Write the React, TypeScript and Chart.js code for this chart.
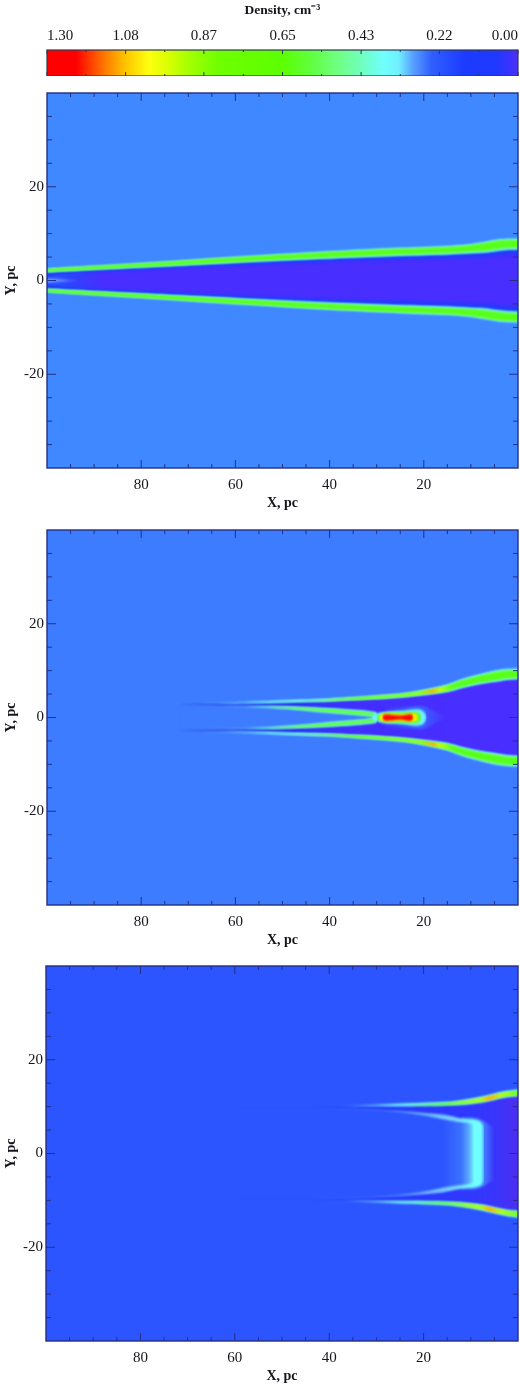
import React, { useEffect, useRef } from 'react';
import { Chart, registerables } from 'chart.js';

Chart.register(...registerables);

const SERIF = '"Liberation Serif", serif';
const INK = '#14161c';
const FRAME = '#243080';

// axis ticks
const xMajor = [20, 40, 60, 80];
const xMinor = [95, 90, 85, 75, 70, 65, 55, 50, 45, 35, 30, 25, 15, 10, 5];
const yMajor = [-20, 0, 20];
const yMinor = [35, 30, 25, 15, 10, 5, -5, -10, -15, -25, -30, -35];

// colour bar
const barMajor = [0, 0.217, 0.433, 0.65, 0.867, 1.083, 1.3];
const barMinor = [1.192, 0.975, 0.758, 0.542, 0.325, 0.108];
const barLevels = [1.3, 1.22, 1.14, 1.08, 1.02, 0.97, 0.91, 0.83, 0.65, 0.57, 0.5, 0.43, 0.37, 0.33, 0.29, 0.24, 0.15, 0.06, 0.02, 0];
const barColors = ['#ff0000', '#ff0000', '#ff7a00', '#ffc800', '#ffff10', '#ddff00', '#a6ff00', '#70ff00', '#5cff00', '#60ff40', '#70ff80', '#70ffc0', '#70ffff', '#70f0ff', '#5aa0ff', '#3060ff', '#1c3cff', '#2038ff', '#3c32ff', '#5030f0'];

// top panel, upper half of the shell (the lower half is its mirror)
const p1X = [100, 95, 90, 80, 68, 50, 36, 25, 15, 11, 7, 4, 2, -2];
const p1Outer = [2.5, 2.8, 3.1, 3.7, 4.5, 5.6, 6.4, 6.9, 7.3, 7.6, 8.2, 8.7, 8.8, 8.9];
const p1Inner = [1.8, 2.05, 2.3, 2.8, 3.4, 4.3, 4.9, 5.3, 5.6, 5.8, 6.0, 6.4, 6.6, 6.7];
const p1Core = [0, 0.9, 1.6, 1.95, 2.6, 3.4, 3.9, 4.2, 4.5, 4.6, 4.8, 5.1, 5.3, 5.4];
const p1SpotX = [100, 97, 93];
const p1SpotY = [0.35, 0.3, 0];

// middle panel
const p2X = [75, 70, 65, 60, 52, 46, 40, 35, 29.4, 24, 19.4, 15, 11.7, 8, 4.6, 2, -2];
const p2Outer = [3.1, 3.15, 3.2, 3.3, 3.55, 3.75, 4.0, 4.3, 4.7, 5.2, 6.0, 7.0, 8.2, 9.2, 10.0, 10.3, 10.4];
const p2Inner = [3.05, 3.05, 3.0, 2.95, 3.15, 3.35, 3.5, 3.75, 4.0, 4.4, 4.9, 5.5, 6.4, 7.2, 7.7, 8.1, 8.3];
const p2FilX = [72, 67, 62, 57, 52, 46, 40, 35, 32, 30];
const p2FilOuter = [2.55, 2.55, 2.5, 2.45, 2.4, 2.2, 1.9, 1.55, 1.3, 1.0];
const p2FilInner = [2.45, 2.4, 2.3, 2.2, 2.0, 1.6, 1.0, 0.6, 0.3, 0];
const p2GlowX = [29, 24, 20, 18.5, 17, 15];
const p2GlowY = [1.9, 2.3, 2.4, 1.7, 1.0, 0];
const p2HaloX = [31, 29, 27, 24, 22, 20.5, 19.8, 19.4];
const p2HaloY = [0.5, 1.1, 1.35, 1.5, 1.75, 1.6, 1.0, 0];
const p2GreenX = [30, 28, 25, 22.5, 21, 20.5];
const p2GreenY = [0.45, 1.0, 1.1, 1.25, 1.0, 0];
const p2YellowX = [29.5, 28.5, 25, 22.5, 21.5, 21.2];
const p2YellowY = [0.3, 0.8, 0.75, 0.85, 0.65, 0];
const p2RedX = [28.8, 28.2, 25, 23, 22.5, 22.2];
const p2RedY = [0.2, 0.68, 0.42, 0.72, 0.55, 0];

// bottom panel
const p3X = [40, 36, 30, 25, 20, 15, 12, 8, 5, 2, -2];
const p3Outer = [10.15, 10.2, 10.4, 10.6, 10.75, 10.95, 11.3, 12.0, 12.7, 13.3, 13.7];
const p3Inner = [10.05, 10.05, 10.1, 10.1, 10.15, 10.3, 10.45, 10.9, 11.5, 12.1, 12.4];
const p3CavityX = [50, 40, 30, 20, 15, 12, 8, 5, 2, -2];
const p3CavityY = [10.0, 10.05, 10.1, 10.15, 10.3, 10.45, 10.9, 11.5, 12.1, 12.4];
const p3ArcX = [60, 46, 38, 30, 25, 20, 16, 13, 11, 9.5, 8, 7.2];
const p3ArcOuter = [9.6, 9.6, 9.55, 9.35, 9.1, 8.7, 8.3, 7.7, 7.35, 7.25, 6.8, 5.8];
const p3HollowX = [60, 46, 38, 30, 25, 20, 16, 13, 11, 9.7, 9.4];
const p3HollowY = [9.55, 9.55, 9.5, 9.15, 8.8, 8.1, 7.3, 6.8, 6.6, 6.3, 6.0];
const p3GlowX = [12, 9, 7, 5];
const p3GlowY = [7.7, 7.6, 6.8, 5.4];

type Stop = [number, string];
type Paint = string | Stop[];

const pts = (xs: number[], ys: number[]) => xs.map((x, i) => ({ x, y: ys[i] }));

const paintOf = (paint: Paint) => {
  if (typeof paint === 'string') return paint;
  return (c: any) => {
    const s = c.chart.scales.x;
    // options get resolved once before layout as well
    if (!s || !c.chart.chartArea || !Number.isFinite(s.left) || !Number.isFinite(s.right)) return 'rgba(0,0,0,0)';
    const g = c.chart.ctx.createLinearGradient(s.left, 0, s.right, 0);
    paint.forEach(([x, colour]) => {
      const o = (s.getPixelForValue(x) - s.left) / (s.right - s.left);
      g.addColorStop(Math.min(1, Math.max(0, o)), colour);
    });
    return g;
  };
};

const edge = { borderWidth: 0, pointRadius: 0, tension: 0.3 };

const band = (xs: number[], up: number[], lo: number[], paint: Paint) => [
  { ...edge, data: pts(xs, up), fill: '+1', backgroundColor: paintOf(paint) },
  { ...edge, data: pts(xs, lo), fill: false },
];

const neg = (ys: number[]) => ys.map(v => -v);

const closed = (xs: number[], ys: number[], paint: Paint) => band(xs, ys, neg(ys), paint);

// both rims, between fractions t0 and t1 of the way from outer to inner edge
const rim = (xs: number[], outer: number[], inner: number[], t0: number, t1: number, paint: Paint) => {
  const a = outer.map((v, i) => v + (inner[i] - v) * t0);
  const b = outer.map((v, i) => v + (inner[i] - v) * t1);
  return [...band(xs, a, b, paint), ...band(xs, neg(b), neg(a), paint)];
};

// datasets are listed back to front
const stacked = (groups: any[][]) => {
  const list = groups.flat();
  return list.map((d, i) => ({ ...d, order: list.length - i }));
};

const panel1 = stacked([
  closed(p1X, p1Inner, '#1e3cf4'),
  closed(p1X, p1Core.map((v, i) => (v + p1Inner[i]) / 2), [[97, '#2a50ff'], [90, '#3236ff']]),
  closed(p1X, p1Core, [[96, '#2c44ff'], [88, '#482eff']]),
  closed(p1SpotX, p1SpotY, [[100, '#78b0ff'], [93, '#3a50ff']]),
  rim(p1X, p1Outer, p1Inner, -0.04, 1.02, '#68e8ff'),
  rim(p1X, p1Outer, p1Inner, 0.06, 0.88, '#70ff70'),
  rim(p1X, p1Outer, p1Inner, 0.14, 0.78, '#58ff18'),
]);

const p2Bg = '#3d7cff';
const panel2 = stacked([
  closed(p2X, p2Inner, [[72, 'rgba(32,48,235,0)'], [62, 'rgba(32,48,235,1)'], [46, '#2a34f4'], [36, '#4030ff'], [15, '#482eff']]),
  closed(p2FilX, p2FilOuter, p2Bg),
  closed(p2GlowX, p2GlowY, [[29, '#4030ff'], [21, '#3a66ff'], [15, '#482eff']]),
  rim(p2X, p2Outer, p2Inner, -0.04, 1.02, [[75, 'rgba(90,170,255,0)'], [62, 'rgba(90,170,255,1)'], [52, '#70f0ff']]),
  rim(p2X, p2Outer, p2Inner, 0.08, 0.92, [[58, 'rgba(112,255,200,0)'], [46, 'rgba(112,255,200,1)'], [38, '#70ff70']]),
  rim(p2X, p2Outer, p2Inner, 0.18, 0.82, [[42, 'rgba(96,255,24,0)'], [34, 'rgba(96,255,24,1)'], [21, '#90ff10'], [18, '#ffb000'], [16.5, '#c8ff00'], [14, '#58ff18']]),
  rim(p2FilX, p2FilOuter, p2FilInner, -0.1, 1.05, [[72, 'rgba(90,170,255,0)'], [60, 'rgba(90,170,255,1)'], [50, '#70f0ff']]),
  rim(p2FilX, p2FilOuter, p2FilInner, 0.12, 0.88, [[58, 'rgba(96,255,60,0)'], [46, 'rgba(96,255,60,1)']]),
  closed(p2HaloX, p2HaloY, '#70f0ff'),
  closed(p2GreenX, p2GreenY, '#60ff20'),
  closed(p2YellowX, p2YellowY, '#ffe800'),
  closed(p2RedX, p2RedY, '#ff0800'),
]);

const p3Bg = '#2c55ff';
const panel3 = stacked([
  closed(p3CavityX, p3CavityY, [[44, 'rgba(38,58,255,0)'], [28, 'rgba(38,58,255,1)'], [10, '#3038ff'], [4, '#3c34fa'], [0, '#4c2ef0']]),
  closed(p3GlowX, p3GlowY, [[7.4, 'rgba(70,130,255,1)'], [5, 'rgba(70,130,255,0)']]),
  closed(p3ArcX, p3ArcOuter, [[42, p3Bg], [28, '#4078ff'], [20, '#6cb0ff'], [13, '#78d8ff'], [10, '#70ffff'], [7.8, '#70ffff'], [7.2, '#4cb0ff']]),
  closed(p3HollowX, p3HollowY, [[16, p3Bg], [12, '#3a72ff'], [10.5, '#5aa8ff'], [9.4, '#70e8ff']]),
  rim(p3X, p3Outer, p3Inner, -0.1, 1.05, [[38, 'rgba(90,170,255,0)'], [32, 'rgba(90,170,255,1)'], [26, '#70f0ff']]),
  rim(p3X, p3Outer, p3Inner, 0.08, 0.92, [[24, 'rgba(90,255,60,0)'], [16, 'rgba(90,255,60,1)'], [8, '#b0ff10'], [6, '#ffb000'], [3.5, '#b0ff10'], [0, '#70ff20']]),
]);

const hatch = (c: Chart, xs: number[], ys: number[], xLen: number, yLen: number) => {
  const { ctx, chartArea: a, scales } = c;
  ctx.beginPath();
  xs.forEach(v => {
    const p = scales.x.getPixelForValue(v);
    ctx.moveTo(p, a.top);
    ctx.lineTo(p, a.top + xLen);
    ctx.moveTo(p, a.bottom);
    ctx.lineTo(p, a.bottom - xLen);
  });
  ys.forEach(v => {
    const p = scales.y.getPixelForValue(v);
    ctx.moveTo(a.left, p);
    ctx.lineTo(a.left + yLen, p);
    ctx.moveTo(a.right, p);
    ctx.lineTo(a.right - yLen, p);
  });
  ctx.stroke();
};

const fieldPlugin = (bg: string) => ({
  id: 'field',
  beforeDatasetsDraw(c: Chart) {
    const { ctx, chartArea: a } = c;
    ctx.fillStyle = bg;
    ctx.fillRect(a.left, a.top, a.right - a.left, a.bottom - a.top);
    ctx.save();
    (ctx as any).filter = 'blur(0.85px)';
  },
  afterDatasetsDraw(c: Chart) {
    const { ctx, chartArea: a } = c;
    ctx.restore();
    ctx.save();
    ctx.strokeStyle = FRAME;
    ctx.lineWidth = 1;
    hatch(c, xMinor, yMinor, 4, 5);
    hatch(c, xMajor, yMajor, 8, 9);
    ctx.lineWidth = 1.4;
    ctx.strokeRect(a.left, a.top, a.right - a.left, a.bottom - a.top);
    ctx.restore();
  },
});

const barPlugin = {
  id: 'barFrame',
  afterDatasetsDraw(c: Chart) {
    const { ctx, chartArea: a } = c;
    ctx.save();
    ctx.strokeStyle = '#2c3a50';
    ctx.lineWidth = 1;
    hatch(c, barMinor, [], 2, 0);
    hatch(c, barMajor, [], 4, 0);
    ctx.lineWidth = 1.2;
    ctx.strokeRect(a.left, a.top, a.right - a.left, a.bottom - a.top);
    ctx.restore();
  },
};

const tickFont = { family: SERIF, size: 15 };
const titleFont = { family: SERIF, size: 14, weight: 'bold' as const };
const noGrid = { display: false, drawTicks: false };

// axis labels must not push the plot area in
const noOverflow = (s: any) => {
  s.paddingLeft = 0;
  s.paddingRight = 0;
  s.paddingTop = 0;
  s.paddingBottom = 0;
};

const panelConfig = (datasets: any[], bg: string, left: number) => ({
  type: 'line',
  data: { datasets },
  plugins: [fieldPlugin(bg)],
  options: {
    responsive: false,
    animation: false,
    events: [],
    layout: { padding: { top: 5, right: 2 } },
    plugins: { legend: { display: false }, tooltip: { enabled: false } },
    scales: {
      x: {
        type: 'linear',
        reverse: true,
        min: 0,
        max: 100,
        afterBuildTicks: (s: any) => { s.ticks = xMajor.map(value => ({ value })); },
        afterFit: (s: any) => { s.height = 44; noOverflow(s); },
        grid: noGrid,
        border: { display: false },
        ticks: { font: tickFont, color: INK, padding: 8, maxRotation: 0, autoSkip: false, callback: (v: any) => String(v) },
        title: { display: true, text: 'X, pc', font: titleFont, color: INK, padding: 0 },
      },
      y: {
        type: 'linear',
        min: -40,
        max: 40,
        afterBuildTicks: (s: any) => { s.ticks = yMajor.map(value => ({ value })); },
        afterFit: (s: any) => { s.width = left; noOverflow(s); },
        grid: noGrid,
        border: { display: false },
        ticks: { font: tickFont, color: INK, padding: 3, autoSkip: false, callback: (v: any) => String(v) },
        title: { display: true, text: 'Y, pc', font: titleFont, color: INK, padding: { top: 3, bottom: 0 } },
      },
    },
  },
});

const barConfig = () => ({
  type: 'line',
  data: {
    datasets: [
      { ...edge, tension: 0, data: [{ x: 1.3, y: 1 }, { x: 0, y: 1 }], fill: '+1', backgroundColor: paintOf(barLevels.map((v, i): Stop => [v, barColors[i]])) },
      { ...edge, tension: 0, data: [{ x: 1.3, y: 0 }, { x: 0, y: 0 }], fill: false },
    ],
  },
  plugins: [barPlugin],
  options: {
    responsive: false,
    animation: false,
    events: [],
    layout: { padding: { right: 2 } },
    plugins: { legend: { display: false }, tooltip: { enabled: false } },
    scales: {
      x: {
        type: 'linear',
        position: 'top',
        reverse: true,
        min: 0,
        max: 1.3,
        afterBuildTicks: (s: any) => { s.ticks = barMajor.map(value => ({ value })); },
        afterFit: (s: any) => { s.height = 50; noOverflow(s); },
        grid: noGrid,
        border: { display: false },
        ticks: { font: tickFont, color: INK, padding: 5, align: 'inner', maxRotation: 0, autoSkip: false, callback: (v: any) => Number(v).toFixed(2) },
        title: { display: true, text: 'Density, cm⁻³', font: { family: SERIF, size: 13.5, weight: 'bold' }, color: INK, padding: { top: 2, bottom: 6 } },
      },
      y: {
        type: 'linear',
        min: 0,
        max: 1,
        display: false,
        afterFit: (s: any) => { s.width = 47; noOverflow(s); },
      },
    },
  },
});

const Plot: React.FC<{ top: number; height: number; make: () => any }> = ({ top, height, make }) => {
  const ref = useRef<HTMLCanvasElement>(null);

  useEffect(() => {
    if (!ref.current) return;
    const chart = new Chart(ref.current, make());
    return () => chart.destroy();
  }, []);

  return <canvas ref={ref} width={520} height={height} style={{ position: 'absolute', left: 0, top, display: 'block' }} />;
};

export default function App() {
  return (
    <div style={{ position: 'absolute', left: 0, top: 0, width: 520, height: 1385, background: '#fff', overflow: 'hidden' }}>
      <Plot top={0} height={76} make={barConfig} />
      <Plot top={88} height={424} make={() => panelConfig(panel1, '#4088ff', 47)} />
      <Plot top={525} height={424} make={() => panelConfig(panel2, p2Bg, 47)} />
      <Plot top={961} height={424} make={() => panelConfig(panel3, p3Bg, 46)} />
    </div>
  );
}
